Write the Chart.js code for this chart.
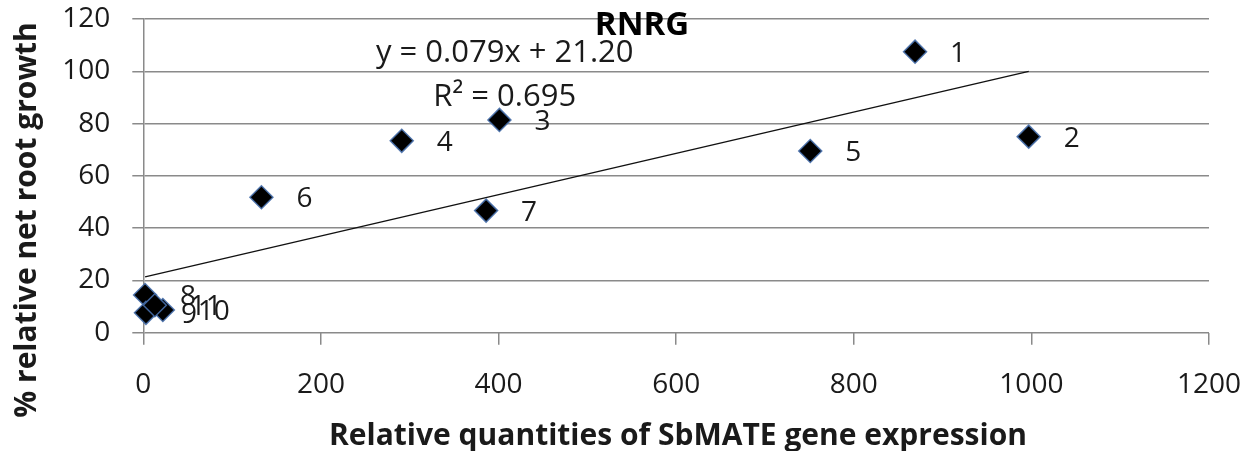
<!DOCTYPE html>
<html>
<head>
<meta charset="utf-8">
<script src="https://cdn.jsdelivr.net/npm/chart.js@4.4.1/dist/chart.umd.min.js"></script>
<style>
  html, body { margin: 0; padding: 0; background: #fff; }
  #wrap { width: 1255px; height: 451px; }
</style>
</head>
<body>
<div id="wrap"><canvas id="rnrgChart" width="1255" height="451"></canvas></div>
<script>
// values
const expression = [869, 997, 401, 291, 751, 133, 386, 2, 3, 22, 13];
const rootGrowth = [107.5, 75.0, 81.4, 73.4, 69.5, 51.8, 46.7, 14.4, 7.6, 8.7, 10.5];
const pointNames = ['1', '2', '3', '4', '5', '6', '7', '8', '9', '10', '11'];
const xTicks = [0, 200, 400, 600, 800, 1000, 1200];
const yTicks = [0, 20, 40, 60, 80, 100, 120];
const trendSlope = 0.079;
const trendIntercept = 21.20;
const equationText = 'y = 0.079x + 21.20';
const r2Text = 'R² = 0.695';
const xTitle = 'Relative quantities of SbMATE gene expression';
const yTitle = '% relative net root growth';

const FONT = "'Open Sans', 'Noto Sans', sans-serif";

document.addEventListener('DOMContentLoaded', function() {
    const points = expression.map((v, i) => ({ x: v, y: rootGrowth[i] }));
    const minX = Math.min(...expression);
    const maxX = Math.max(...expression);
    const trend = [
        { x: minX, y: trendSlope * minX + trendIntercept },
        { x: maxX, y: trendSlope * maxX + trendIntercept }
    ];

    // point numbers, equation text, chart title and axis titles
    const annotations = {
        id: 'annotations',
        afterDatasetsDraw(chart) {
            const ctx = chart.ctx;
            const xs = chart.scales.x, ys = chart.scales.y;
            ctx.save();
            ctx.fillStyle = '#1a1a1a';
            ctx.font = '28px ' + FONT;
            ctx.textAlign = 'left';
            ctx.textBaseline = 'middle';
            const meta = chart.getDatasetMeta(0);
            meta.data.forEach((el, i) => {
                ctx.fillText(pointNames[i], el.x + 35, el.y + 2);
            });

            ctx.textAlign = 'center';
            ctx.font = '31px ' + FONT;
            ctx.fillText(equationText, xs.getPixelForValue(407), ys.getPixelForValue(107));
            ctx.fillText(r2Text, xs.getPixelForValue(407), ys.getPixelForValue(90.2));

            ctx.font = 'bold 33px ' + FONT;
            ctx.fillStyle = '#000';
            ctx.fillText('RNRG', 642, 26);

            ctx.fillStyle = '#1a1a1a';
            ctx.font = 'bold 30px ' + FONT;
            ctx.fillText(xTitle, 678, 436);
            ctx.translate(27, 220);
            ctx.rotate(-Math.PI / 2);
            ctx.fillText(yTitle, 0, 0);
            ctx.restore();
        }
    };

    const ctx = document.getElementById('rnrgChart').getContext('2d');
    new Chart(ctx, {
        type: 'scatter',
        data: {
            datasets: [{
                label: 'RNRG',
                data: points,
                clip: false,
                pointStyle: 'rectRot',
                pointRadius: 11.5,
                pointHoverRadius: 11.5,
                backgroundColor: '#000',
                borderColor: 'rgba(70,110,170,0.9)',
                borderWidth: 1.5
            }, {
                label: 'Linear trend',
                data: trend,
                showLine: true,
                pointRadius: 0,
                borderColor: '#111',
                borderWidth: 1.5,
                fill: false
            }]
        },
        options: {
            responsive: false,
            animation: false,
            layout: { padding: { left: 0, right: 46, top: 19, bottom: 0 } },
            plugins: {
                legend: { display: false },
                tooltip: { enabled: false },
                title: { display: false }
            },
            scales: {
                x: {
                    type: 'linear',
                    min: 0,
                    max: 1200,
                    afterBuildTicks: (s) => { s.ticks = xTicks.map(v => ({ value: v })); },
                    afterFit: (s) => {
                        s.height = 118.3;
                        s.paddingLeft = 0;
                        s.paddingRight = 0;
                    },
                    grid: {
                        drawOnChartArea: false,
                        drawTicks: true,
                        tickLength: 12,
                        color: '#8a8a8a',
                        lineWidth: 1.5
                    },
                    border: { display: false },
                    ticks: {
                        padding: 26,
                        color: '#1a1a1a',
                        callback: (v) => String(v),
                        font: { family: FONT, size: 28, lineHeight: 1 }
                    }
                },
                y: {
                    type: 'linear',
                    min: 0,
                    max: 120,
                    afterBuildTicks: (s) => { s.ticks = yTicks.map(v => ({ value: v })); },
                    afterFit: (s) => {
                        s.width = 143.3;
                        s.paddingTop = 0;
                        s.paddingBottom = 0;
                    },
                    grid: {
                        drawTicks: true,
                        tickLength: 11,
                        color: '#8a8a8a',
                        lineWidth: 1.5
                    },
                    border: { display: true, color: '#8a8a8a', width: 1.5 },
                    ticks: {
                        padding: 22,
                        color: '#1a1a1a',
                        callback: (v) => String(v),
                        font: { family: FONT, size: 28, lineHeight: 1 }
                    }
                }
            }
        },
        plugins: [annotations]
    });
});
</script>
</body>
</html>
